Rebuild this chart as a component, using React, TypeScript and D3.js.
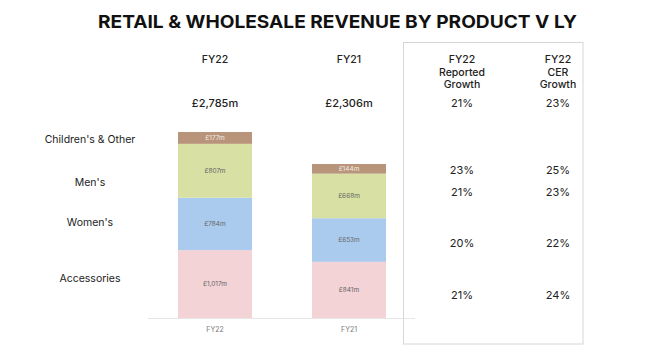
import * as d3 from "d3";

// data
const years = ["FY22", "FY21"];
const totals = ["£2,785m", "£2,306m"];
const segments = ["Accessories", "Women's", "Men's", "Children's & Other"];
const fy22 = [1017, 784, 807, 177];
const fy21 = [841, 653, 668, 144];
const segColors = ["#f3d3d6", "#abcbee", "#d9e0a4", "#b8947a"];
const growthHeaders = [
  ["FY22", "Reported", "Growth"],
  ["FY22", "CER", "Growth"],
];
const reportedGrowth = ["21%", "23%", "21%", "20%", "21%"];
const cerGrowth = ["23%", "25%", "23%", "22%", "24%"];

// layout (label rows, page coords)
const categoryLabels = ["Children's & Other", "Men's", "Women's", "Accessories"];
const categoryRowY = [143, 186, 226, 282];
const growthRowY = [106.5, 174, 196, 247, 299];

const W = 660;
const H = 352;
const font = "Inter, 'Open Sans', sans-serif";

const fmt = (v: number) => "£" + d3.format(",")(v) + "m";

export default function App() {
  const x = d3.scaleBand().domain(years).range([148, 416]).paddingInner(0.448).paddingOuter(0.224);
  const y = d3.scaleLinear().domain([0, 2785]).range([318, 132]);
  const growthX = d3.scalePoint().domain(["rep", "cer"]).range([462, 558]);

  const stack = d3.stack<number[]>().keys(segments.map((_, i) => String(i))).value((d, k) => d[+k]);
  const series = stack([fy22, fy21]);

  return (
    <svg
      width={W}
      height={H}
      style={{ position: "fixed", left: 0, top: 0, background: "#fff" }}
      fontFamily={font}
    >
      <rect width={W} height={H} fill="#fff" />
      <text
        x={337.5}
        y={27.5}
        textAnchor="middle"
        fontSize={17.5}
        fontWeight={700}
        fill="#111"
        textLength={479}
        lengthAdjust="spacingAndGlyphs"
      >
        RETAIL &amp; WHOLESALE REVENUE BY PRODUCT V LY
      </text>

      {/* growth box */}
      <rect x={403.5} y={42.5} width={179.5} height={301.5} fill="none" stroke="#d6d6d6" strokeWidth={1} />

      {/* baseline */}
      <line x1={148} x2={415} y1={318.5} y2={318.5} stroke="#e6e6e6" strokeWidth={1} />

      {years.map((yr, j) => {
        const cx = (x(yr) as number) + x.bandwidth() / 2;
        return (
          <g key={yr}>
            <text x={cx} y={63} textAnchor="middle" fontSize={10.5} fontWeight={500} fill="#222">
              {yr}
            </text>
            <text x={cx} y={106.5} textAnchor="middle" fontSize={11} fontWeight={500} fill="#222">
              {totals[j]}
            </text>
            <text x={cx} y={331.5} textAnchor="middle" fontSize={7} fill="#777">
              {yr}
            </text>
          </g>
        );
      })}

      {series.map((s, i) =>
        s.map((d, j) => {
          const x0 = x(years[j]) as number;
          const top = y(d[1]);
          const bot = y(d[0]);
          const val = d[1] - d[0];
          return (
            <g key={`${i}-${j}`}>
              <rect x={x0} y={top} width={x.bandwidth()} height={bot - top} fill={segColors[i]} />
              <text
                x={x0 + x.bandwidth() / 2}
                y={(top + bot) / 2 + 2.3}
                textAnchor="middle"
                fontSize={6.5}
                fill={i === 3 ? "#f4ece4" : "#666"}
              >
                {fmt(val)}
              </text>
            </g>
          );
        })
      )}

      {categoryLabels.map((c, i) => (
        <text key={c} x={90} y={categoryRowY[i]} textAnchor="middle" fontSize={10.5} fill="#222">
          {c}
        </text>
      ))}

      {growthHeaders.map((lines, k) => (
        <g key={k}>
          {lines.map((l, li) => (
            <text
              key={li}
              x={growthX(k === 0 ? "rep" : "cer")}
              y={63 + li * 12.5}
              textAnchor="middle"
              fontSize={10.5}
              fontWeight={500}
              fill="#222"
            >
              {l}
            </text>
          ))}
        </g>
      ))}

      {reportedGrowth.map((g, i) => (
        <text key={`r${i}`} x={growthX("rep")} y={growthRowY[i]} textAnchor="middle" fontSize={11} fill="#222">
          {g}
        </text>
      ))}
      {cerGrowth.map((g, i) => (
        <text key={`c${i}`} x={growthX("cer")} y={growthRowY[i]} textAnchor="middle" fontSize={11} fill="#222">
          {g}
        </text>
      ))}
    </svg>
  );
}
